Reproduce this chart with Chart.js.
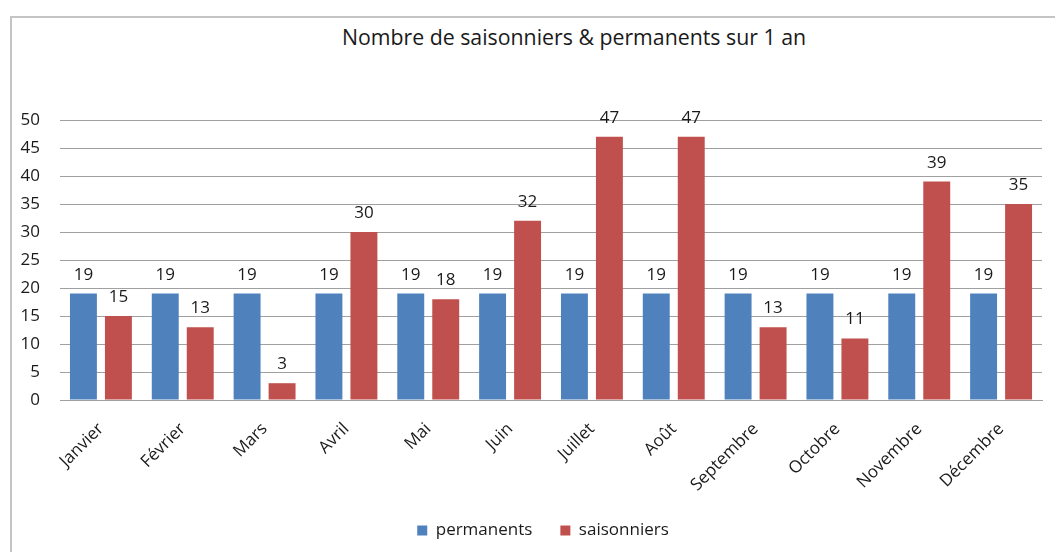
<!DOCTYPE html>
<html>
<head>
<meta charset="utf-8">
<script src="https://cdn.jsdelivr.net/npm/chart.js@4/dist/chart.umd.min.js"></script>
<style>
  html, body { margin: 0; padding: 0; background: #fff; overflow: hidden; }
  #frame { position: absolute; left: 10px; top: 16px; width: 1200px; height: 600px;
           border-left: 2px solid #c4c4c4; border-top: 2px solid #c4c4c4; }
  #title { position: absolute; left: 0; width: 1148px; top: 24px; text-align: center;
           font-family: "Open Sans", Lato, sans-serif; font-size: 21.3px; line-height: 26px; color: #1a1a1a; }
  #wrap { position: absolute; left: 0; top: 0; width: 1055px; height: 552px; }
</style>
</head>
<body>
<div id="frame"></div>
<div id="title">Nombre de saisonniers &amp; permanents sur 1 an</div>
<div id="wrap"><canvas id="c" width="1055" height="552"></canvas></div>
<script>
const categories = ["Janvier", "Février", "Mars", "Avril", "Mai", "Juin", "Juillet", "Août", "Septembre", "Octobre", "Novembre", "Décembre"];
const permanents = [19, 19, 19, 19, 19, 19, 19, 19, 19, 19, 19, 19];
const saisonniers = [15, 13, 3, 30, 18, 32, 47, 47, 13, 11, 39, 35];
const yMin = 0, yMax = 50, yStep = 5;

const FONT = "'Open Sans', Lato, sans-serif";
const TEXT = '#1a1a1a';

// width of the widest y label, to place right-aligned labels 20px left of the plot
const mctx = document.createElement('canvas').getContext('2d');
mctx.font = '17px ' + FONT;
const widestY = mctx.measureText(String(yMax)).width;

const valueLabels = {
  id: 'valueLabels',
  afterDatasetsDraw(chart) {
    const ctx = chart.ctx;
    ctx.save();
    ctx.font = '17px ' + FONT;
    ctx.fillStyle = TEXT;
    ctx.textAlign = 'center';
    ctx.textBaseline = 'alphabetic';
    chart.data.datasets.forEach((ds, i) => {
      const meta = chart.getDatasetMeta(i);
      meta.data.forEach((bar, j) => {
        ctx.fillText(String(ds.data[j]), bar.x, bar.y - 14);
      });
    });
    ctx.restore();
  }
};

document.fonts.ready.then(() => {
new Chart(document.getElementById('c'), {
  type: 'bar',
  data: {
    labels: categories,
    datasets: [
      { label: 'permanents', data: permanents, backgroundColor: '#4F81BD' },
      { label: 'saisonniers', data: saisonniers, backgroundColor: '#C0504D' }
    ]
  },
  options: {
    responsive: false,
    animation: false,
    devicePixelRatio: 1,
    layout: { padding: { left: 44, right: 13, top: 120, bottom: 3 } },
    datasets: { bar: { categoryPercentage: 0.855, barPercentage: 0.77 } },
    scales: {
      x: {
        grid: { display: false, drawTicks: false },
        border: { display: true, color: '#a0a0a0', width: 1 },
        ticks: { color: TEXT, font: { family: FONT, size: 17 }, minRotation: 45, maxRotation: 45, padding: 19, autoSkip: false },
        afterFit(scale) { scale.height = 94; }
      },
      y: {
        min: yMin, max: yMax,
        grid: { color: '#a0a0a0', lineWidth: 1, drawTicks: false },
        border: { display: false },
        ticks: { stepSize: yStep, color: TEXT, font: { family: FONT, size: 17 },
                 mirror: true, crossAlign: 'far', padding: -20 - widestY },
        afterFit(scale) { scale.width = 16; }
      }
    },
    plugins: {
      title: { display: false },
      tooltip: { enabled: false },
      legend: {
        position: 'bottom',
        labels: { color: TEXT, font: { family: FONT, size: 17 }, boxWidth: 10, boxHeight: 10, padding: 28 }
      }
    }
  },
  plugins: [valueLabels]
});
});
</script>
</body>
</html>
